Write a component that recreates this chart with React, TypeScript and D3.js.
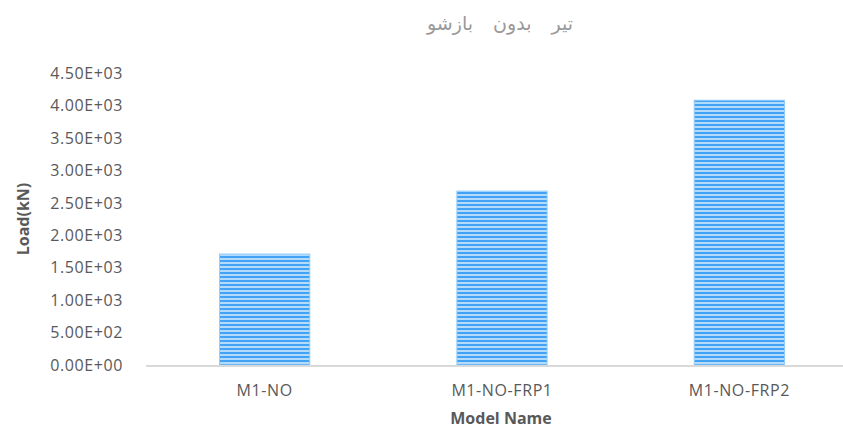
import React, { useEffect, useRef } from "react";
import * as d3 from "d3";

const categories = ["M1-NO", "M1-NO-FRP1", "M1-NO-FRP2"];
const loads = [1710, 2680, 4080];
const yTicks = [0, 500, 1000, 1500, 2000, 2500, 3000, 3500, 4000, 4500];
const title = "تیر بدون بازشو";

// Excel style scientific label: 4.50E+03
const sci = (v: number) => {
  const [m, e] = v.toExponential(2).split("e");
  const n = parseInt(e, 10);
  return `${m}E${n < 0 ? "-" : "+"}${String(Math.abs(n)).padStart(2, "0")}`;
};

const App = () => {
  const ref = useRef<SVGSVGElement>(null);

  useEffect(() => {
    const width = 843;
    const height = 430;
    const svg = d3.select(ref.current);
    svg.selectAll("*").remove();

    const x = d3.scaleBand().domain(categories).range([146, 858]).paddingInner(0.62).paddingOuter(0.31);
    const y = d3.scaleLinear().domain([0, 4500]).range([365, 73]);

    // stripe fill
    const defs = svg.append("defs");
    const pat = defs
      .append("pattern")
      .attr("id", "hstripe")
      .attr("patternUnits", "userSpaceOnUse")
      .attr("width", 8)
      .attr("height", 4);
    pat.append("rect").attr("width", 8).attr("height", 4).attr("fill", "#b3dbfc");
    pat.append("rect").attr("y", 0).attr("width", 8).attr("height", 2).attr("fill", "#44a2f4");

    svg
      .append("text")
      .attr("x", 500)
      .attr("y", 30)
      .attr("text-anchor", "middle")
      .attr("font-family", "DejaVu Sans")
      .attr("font-size", 19)
      .attr("word-spacing", 14)
      .attr("fill", "#999999")
      .attr("direction", "rtl")
      .text(title);

    // bars
    svg
      .selectAll(".bar")
      .data(loads)
      .enter()
      .append("rect")
      .attr("class", "bar")
      .attr("x", (d, i) => x(categories[i])!)
      .attr("width", x.bandwidth())
      .attr("y", (d) => y(d))
      .attr("height", (d) => y(0) - y(d))
      .attr("fill", "url(#hstripe)")
      .attr("stroke", "#8fcbfa")
      .attr("stroke-width", 1);

    // x axis line
    svg
      .append("line")
      .attr("x1", 146)
      .attr("x2", width)
      .attr("y1", y(0) + 1)
      .attr("y2", y(0) + 1)
      .attr("stroke", "#d9d9d9")
      .attr("stroke-width", 2);

    // y tick labels
    svg
      .selectAll(".ytick")
      .data(yTicks)
      .enter()
      .append("text")
      .attr("class", "ytick")
      .attr("x", 123)
      .attr("y", (d) => y(d))
      .attr("dy", "0.36em")
      .attr("text-anchor", "end")
      .attr("font-family", "Open Sans")
      .attr("font-size", 16)
      .attr("letter-spacing", 0.6)
      .attr("fill", "#595959")
      .text((d) => sci(d));

    // x tick labels
    svg
      .selectAll(".xtick")
      .data(categories)
      .enter()
      .append("text")
      .attr("class", "xtick")
      .attr("x", (d) => x(d)! + x.bandwidth() / 2)
      .attr("y", 396)
      .attr("text-anchor", "middle")
      .attr("font-family", "Open Sans")
      .attr("font-size", 16)
      .attr("letter-spacing", 0.6)
      .attr("fill", "#595959")
      .text((d) => d);

    // axis titles
    svg
      .append("text")
      .attr("x", 501)
      .attr("y", 424)
      .attr("text-anchor", "middle")
      .attr("font-family", "Open Sans")
      .attr("font-size", 16)
      .attr("font-weight", "bold")
      .attr("fill", "#595959")
      .text("Model Name");

    svg
      .append("text")
      .attr("transform", `translate(29,219) rotate(-90)`)
      .attr("text-anchor", "middle")
      .attr("font-family", "Open Sans")
      .attr("font-size", 16)
      .attr("font-weight", "bold")
      .attr("fill", "#595959")
      .text("Load(kN)");

    svg.attr("width", width).attr("height", height);
  }, []);

  return (
    <div style={{ position: "absolute", left: 0, top: 0 }}>
      <svg ref={ref} style={{ display: "block", background: "#fff" }} />
    </div>
  );
};

export default App;
